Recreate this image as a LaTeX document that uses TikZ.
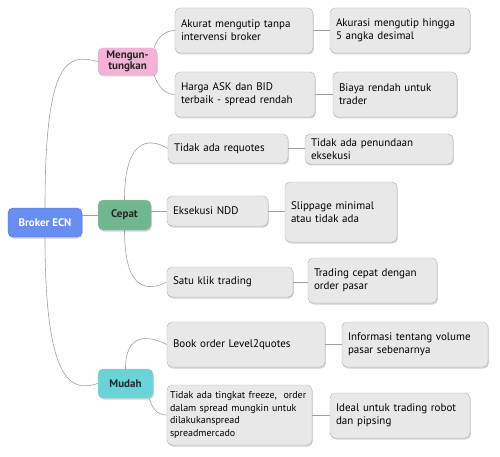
\documentclass[tikz,border=0pt]{standalone}
\usepackage{fontspec}
\setsansfont{PT Sans}
\usepackage{tikz}
\usetikzlibrary{shadows}
\definecolor{rootcolor}{RGB}{104,142,244}
\definecolor{pinkcolor}{RGB}{245,178,214}
\definecolor{greencolor}{RGB}{112,182,142}
\definecolor{cyancolor}{RGB}{104,212,216}
\definecolor{leafcolor}{RGB}{232,232,232}
\definecolor{linecolor}{RGB}{160,160,160}

\begin{document}
\begin{tikzpicture}[font=\sffamily, x=1pt, y=-1pt]
    % Define the styles for the boxes and the links
    \tikzstyle{box} = [rounded corners=5pt, inner sep=0pt, drop shadow={shadow xshift=0.8pt, shadow yshift=-1.5pt, opacity=0.35}]
    \tikzstyle{branch} = [box, draw=black!25, align=center, font=\sffamily\bfseries\fontsize{11}{11.5}\selectfont, text=black!85]
    \tikzstyle{leaf} = [box, draw=black!30, fill=leafcolor, align=left, inner xsep=6pt, text=black, font=\sffamily\fontsize{11}{13}\selectfont]
    \tikzstyle{link} = [draw=linecolor, line width=0.6pt]
    \useasboundingbox (0,0) rectangle (500,457);

    % Centre and the three branches
    \node[box, fill=rootcolor, draw=rootcolor!80!black, text=white, font=\sffamily\bfseries\fontsize{11}{12}\selectfont, minimum width=74pt, minimum height=29pt] (root) at (45,222.5) {Broker ECN};
    \node[branch, fill=pinkcolor, minimum width=59pt, minimum height=27pt] (meng) at (127.5,61.5) {Mengun-\\tungkan};
    \node[branch, fill=greencolor, minimum width=53pt, minimum height=30pt] (cepat) at (124.5,215) {Cepat};
    \node[branch, fill=cyancolor, minimum width=55pt, minimum height=29pt] (mudah) at (125.5,383.5) {Mudah};

    % Leaves of Menguntungkan
    \node[leaf, text width=126pt, minimum height=45pt] (a1) at (244,30.5) {Akurat mengutip tanpa\\intervensi broker};
    \node[leaf, text width=128pt, minimum height=45pt] (a2) at (400,30.5) {Akurasi mengutip hingga\\5 angka desimal};
    \node[leaf, text width=128pt, minimum height=45pt] (b1) at (245,94.5) {Harga ASK dan BID\\terbaik - spread rendah};
    \node[leaf, text width=112pt, minimum height=45pt] (b2) at (395,94.5) {Biaya rendah untuk\\trader};

    % Leaves of Cepat
    \node[leaf, text width=108pt, minimum height=29pt] (c1) at (228,148.5) {Tidak ada requotes};
    \node[leaf, text width=136pt, minimum height=30pt] (c2) at (379,149) {Tidak ada penundaan\\eksekusi};
    \node[leaf, text width=89pt, minimum height=30pt] (d1) at (217.5,211) {Eksekusi NDD};
    \node[leaf, text width=100pt, minimum height=60pt] (d2) at (341,212) {Slippage minimal\\atau tidak ada};
    \node[leaf, text width=114pt, minimum height=30pt] (e1) at (230,282) {Satu klik trading};
    \node[leaf, text width=117pt, minimum height=45pt] (e2) at (372.5,280.5) {Trading cepat dengan\\order pasar};

    % Leaves of Mudah
    \node[leaf, text width=146pt, minimum height=45pt] (f1) at (246,344.5) {Book order Level2quotes};
    \node[leaf, text width=134pt, minimum height=45pt] (f2) at (415,344.5) {Informasi tentang volume\\pasar sebenarnya};
    \node[leaf, text width=139pt, minimum height=60pt, inner xsep=3pt, font=\sffamily\fontsize{10}{12.8}\selectfont] (g1) at (239.5,415) {Tidak ada tingkat freeze,~ order\\dalam spread mungkin untuk\\dilakukanspread\\spreadmercado};
    \node[leaf, text width=128pt, minimum height=45pt] (g2) at (400,415.5) {Ideal untuk trading robot\\dan pipsing};

    % Links from the centre to the branches
    \draw[link] (root.north) .. controls +(0,-150) and +(-30,-8) .. (meng.west);
    \draw[link] (root.east |- cepat.west) -- (cepat.west);
    \draw[link] (root.south) .. controls +(0,150) and +(-25,8) .. (mudah.west);

    % Links from the branches to the leaves
    \draw[link] ([xshift=-3pt]meng.north east) .. controls +(3,-10) and +(-10,0) .. (a1.west);
    \draw[link] ([xshift=-3pt]meng.south east) .. controls +(3,10) and +(-10,0) .. (b1.west);
    \draw[link] (cepat.north) .. controls +(0,-60) and +(-20,-12) .. (c1.west);
    \draw[link] (cepat.east |- d1.west) -- (d1.west);
    \draw[link] (cepat.south) .. controls +(0,60) and +(-20,10) .. (e1.west);
    \draw[link] (mudah.north) .. controls +(0,-35) and +(-20,-10) .. (f1.west);
    \draw[link] ([xshift=-4pt]mudah.south east) .. controls +(3,10) and +(-10,0) .. (g1.west);

    % Links between the leaves
    \foreach \from/\to in {a1/a2, b1/b2, c1/c2, d1/d2, e1/e2, f1/f2, g1/g2}
        \draw[link] (\from.east) -- (\from.east -| \to.west);
\end{tikzpicture}
\end{document}
